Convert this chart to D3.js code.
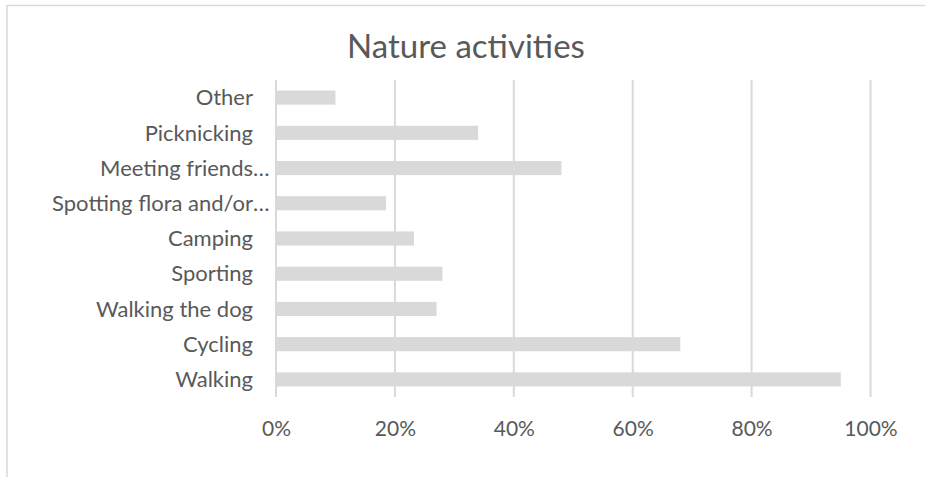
<!DOCTYPE html>
<html><head><meta charset="utf-8">
<script src="https://cdn.jsdelivr.net/npm/d3@7/dist/d3.min.js"></script>
<style>
html,body{margin:0;padding:0;background:#fff;}
svg{display:block;}
</style></head>
<body>
<svg id="chart" width="925" height="477"></svg>
<script>
const title = "Nature activities";
const categories = ["Other","Picknicking","Meeting friends…","Spotting flora and/or…","Camping","Sporting","Walking the dog","Cycling","Walking"];
const values = [0.10,0.34,0.48,0.185,0.232,0.28,0.27,0.68,0.95];
const tickValues = [0,0.2,0.4,0.6,0.8,1.0];

const svg = d3.select("#chart");
const font = "Lato, 'Open Sans', sans-serif";
const grey = "#d9d9d9", txt = "#595959";

// chart frame (extends beyond the visible area at right and bottom)
svg.append("rect").attr("x",7).attr("y",5.5).attr("width",960).attr("height",520)
  .attr("fill","none").attr("stroke",grey).attr("stroke-width",1.5);

svg.append("text").attr("x",466).attr("y",58).attr("text-anchor","middle")
  .attr("font-family",font).attr("font-size",33).attr("fill",txt).text(title);

const x = d3.scaleLinear().domain([0,1]).range([276,870.5]);
const y = d3.scaleBand().domain(categories).range([80,397]).paddingInner(0.6).paddingOuter(0.3);

// gridlines
svg.append("g").selectAll("line").data(tickValues).join("line")
  .attr("x1",d=>x(d)).attr("x2",d=>x(d)).attr("y1",80).attr("y2",397)
  .attr("stroke",grey).attr("stroke-width",2);

// bars
svg.append("g").selectAll("rect").data(categories).join("rect")
  .attr("x",x(0)).attr("y",d=>y(d)).attr("height",y.bandwidth())
  .attr("width",(d,i)=>x(values[i])-x(0)).attr("fill",grey);

// x axis tick labels
const xa = svg.append("g").attr("transform","translate(0,397)")
  .call(d3.axisBottom(x).tickValues(tickValues).tickFormat(d3.format(".0%")).tickSize(0).tickPadding(24));
xa.select(".domain").remove();
xa.selectAll("text").attr("font-family",font).attr("font-size",21).attr("fill",txt);

// category labels
const lab = svg.append("g").selectAll("g").data(categories).join("g")
  .attr("transform",d=>`translate(0,${y(d)+y.bandwidth()/2})`);
lab.append("text").attr("x",253).attr("dy","0.35em").attr("text-anchor","end")
  .attr("font-family",font).attr("font-size",22).attr("fill",txt)
  .text(d=>d.replace("…",""));
lab.filter(d=>d.endsWith("…")).append("text").attr("x",253).attr("dy","0.35em")
  .attr("font-family",font).attr("font-size",22).attr("fill",txt).text("…");
</script>
</body></html>
